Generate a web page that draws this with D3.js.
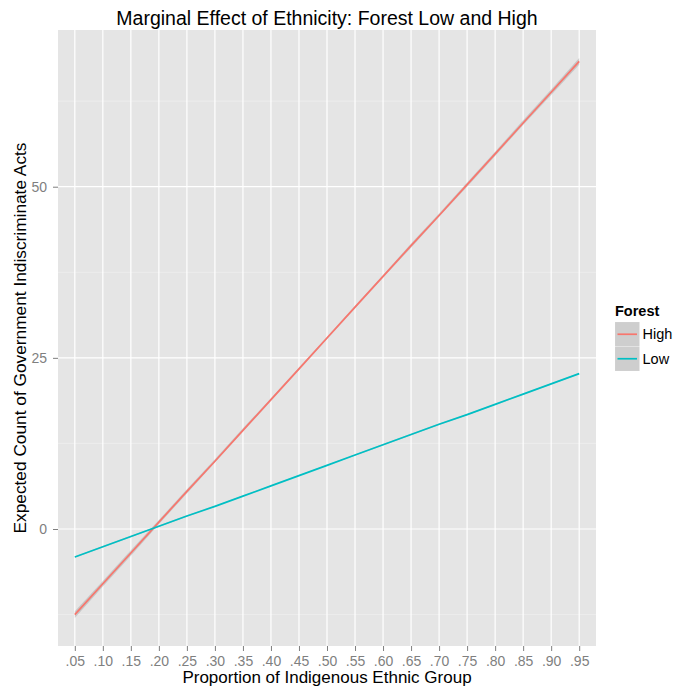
<!DOCTYPE html>
<html>
<head>
<meta charset="utf-8">
<script src="https://cdn.jsdelivr.net/npm/d3@7"></script>
<style>
  html, body { margin: 0; padding: 0; background: #fff; }
  svg { display: block; font-family: "Liberation Sans", Arial, Helvetica, sans-serif; }
</style>
</head>
<body>
<svg id="chart" width="674" height="692"></svg>
<script>
// Proportion categories along the x axis
const proportions = [".05", ".10", ".15", ".20", ".25", ".30", ".35", ".40", ".45", ".50",
                     ".55", ".60", ".65", ".70", ".75", ".80", ".85", ".90", ".95"];

// Expected counts, high-forest group
const highFit   = [-12.5, -8.0, -3.5, 1.0, 5.5, 9.9, 14.4, 18.9, 23.4, 27.9,
                   32.4, 36.9, 41.4, 45.8, 50.3, 54.8, 59.3, 63.8, 68.3];
const highLower = [-13.0, -8.4, -3.9, 0.7, 5.2, 9.7, 14.2, 18.7, 23.2, 27.7,
                   32.2, 36.7, 41.1, 45.6, 50.0, 54.5, 59.0, 63.4, 67.8];
const highUpper = [-12.0, -7.6, -3.1, 1.3, 5.8, 10.2, 14.7, 19.1, 23.6, 28.1,
                   32.6, 37.1, 41.7, 46.1, 50.6, 55.1, 59.7, 64.2, 68.8];

// Expected counts, low-forest group
const lowFit    = [-4.1, -2.6, -1.1, 0.4, 1.9, 3.3, 4.8, 6.3, 7.8, 9.3,
                   10.8, 12.3, 13.8, 15.3, 16.7, 18.2, 19.7, 21.2, 22.7];
const lowLower  = [-4.2, -2.7, -1.2, 0.3, 1.8, 3.3, 4.8, 6.3, 7.8, 9.3,
                   10.7, 12.2, 13.7, 15.2, 16.6, 18.1, 19.6, 21.1, 22.6];
const lowUpper  = [-4.0, -2.5, -1.0, 0.5, 2.0, 3.4, 4.9, 6.4, 7.9, 9.4,
                   10.9, 12.4, 13.9, 15.4, 16.8, 18.3, 19.8, 21.3, 22.8];

const yTicks = [0, 25, 50];
const yMinor = [-12.5, 12.5, 37.5, 62.5];

const groupNames  = ["High", "Low"];
const groupColors = ["#F8766D", "#00BFC4"];

const svg = d3.select("#chart");
const panel = { left: 58, right: 596, top: 30, bottom: 646 };

// Discrete x positions with 0.6 padding on either side
const xIndex = d3.scaleLinear()
  .domain([0.4, proportions.length + 0.6])
  .range([panel.left, panel.right]);
const x = (cat) => xIndex(proportions.indexOf(cat) + 1);

// Continuous y with 5% expansion around the band range
const yLo = d3.min(highLower.concat(lowLower));
const yHi = d3.max(highUpper.concat(lowUpper));
const pad = (yHi - yLo) * 0.05;
const y = d3.scaleLinear().domain([yLo - pad, yHi + pad]).range([panel.bottom, panel.top]);

// Panel background and grid
svg.append("rect")
  .attr("x", panel.left).attr("y", panel.top)
  .attr("width", panel.right - panel.left).attr("height", panel.bottom - panel.top)
  .attr("fill", "#E5E5E5");

svg.append("g").selectAll("line").data(yMinor).join("line")
  .attr("x1", panel.left).attr("x2", panel.right)
  .attr("y1", d => y(d)).attr("y2", d => y(d))
  .attr("stroke", "#F2F2F2").attr("stroke-width", 0.6);

svg.append("g").selectAll("line").data(yTicks).join("line")
  .attr("x1", panel.left).attr("x2", panel.right)
  .attr("y1", d => y(d)).attr("y2", d => y(d))
  .attr("stroke", "#FFFFFF").attr("stroke-width", 1.2);

svg.append("g").selectAll("line").data(proportions).join("line")
  .attr("x1", d => x(d)).attr("x2", d => x(d))
  .attr("y1", panel.top).attr("y2", panel.bottom)
  .attr("stroke", "#FFFFFF").attr("stroke-width", 1.2);

// Confidence bands and fitted lines
const series = [
  { name: "High", fit: highFit, lower: highLower, upper: highUpper, color: groupColors[0] },
  { name: "Low",  fit: lowFit,  lower: lowLower,  upper: lowUpper,  color: groupColors[1] }
];

const area = d3.area()
  .x((d, i) => x(proportions[i]))
  .y0(d => y(d[0])).y1(d => y(d[1]));
const line = d3.line()
  .x((d, i) => x(proportions[i]))
  .y(d => y(d));

series.forEach(s => {
  svg.append("path")
    .datum(s.lower.map((v, i) => [v, s.upper[i]]))
    .attr("d", area)
    .attr("fill", "#999999").attr("fill-opacity", 0.4);
});
series.forEach(s => {
  svg.append("path")
    .datum(s.fit)
    .attr("d", line)
    .attr("fill", "none")
    .attr("stroke", s.color).attr("stroke-width", 1.7);
});

// Axes
const xAxis = d3.axisBottom(xIndex)
  .tickValues(d3.range(1, proportions.length + 1))
  .tickFormat(i => proportions[i - 1])
  .tickSize(5).tickPadding(5);
const gx = svg.append("g").attr("transform", `translate(0,${panel.bottom})`).call(xAxis);

const yAxis = d3.axisLeft(y).tickValues(yTicks).tickFormat(d3.format("d"))
  .tickSize(5).tickPadding(6);
const gy = svg.append("g").attr("transform", `translate(${panel.left},0)`).call(yAxis);

[gx, gy].forEach(g => {
  g.select(".domain").remove();
  g.selectAll(".tick line").attr("stroke", "#7F7F7F");
  g.selectAll(".tick text").attr("fill", "#7F7F7F")
    .style("font-size", "14px").style("font-family", "'Liberation Sans', Arial, sans-serif");
});

// Titles
svg.append("text")
  .attr("x", (panel.left + panel.right) / 2).attr("y", 25)
  .attr("text-anchor", "middle")
  .style("font-size", "19.5px").attr("fill", "#000")
  .text("Marginal Effect of Ethnicity: Forest Low and High");

svg.append("text")
  .attr("x", (panel.left + panel.right) / 2).attr("y", 683)
  .attr("text-anchor", "middle")
  .style("font-size", "17px").attr("fill", "#000")
  .text("Proportion of Indigenous Ethnic Group");

svg.append("text")
  .attr("transform", `translate(26,${(panel.top + panel.bottom) / 2}) rotate(-90)`)
  .attr("text-anchor", "middle")
  .style("font-size", "17.3px").attr("fill", "#000")
  .text("Expected Count of Government Indiscriminate Acts");

// Legend
const legend = svg.append("g").attr("transform", "translate(615,300)");
legend.append("text")
  .attr("x", 0).attr("y", 16)
  .style("font-size", "14.5px").style("font-weight", "bold")
  .text("Forest");

const keySize = 24.5;
groupNames.forEach((name, i) => {
  const g = legend.append("g").attr("transform", `translate(0,${22 + i * keySize})`);
  g.append("rect").attr("width", keySize).attr("height", keySize)
    .attr("fill", "#F2F2F2").attr("stroke", "#FFFFFF").attr("stroke-width", 0.6);
  g.append("rect").attr("width", keySize).attr("height", keySize)
    .attr("fill", "#999999").attr("fill-opacity", 0.4);
  g.append("line")
    .attr("x1", 2.5).attr("x2", keySize - 2.5)
    .attr("y1", keySize / 2).attr("y2", keySize / 2)
    .attr("stroke", groupColors[i]).attr("stroke-width", 1.7);
  g.append("text")
    .attr("x", keySize + 3).attr("y", keySize / 2 + 5.2)
    .style("font-size", "14.5px")
    .text(name);
});
</script>
</body>
</html>
